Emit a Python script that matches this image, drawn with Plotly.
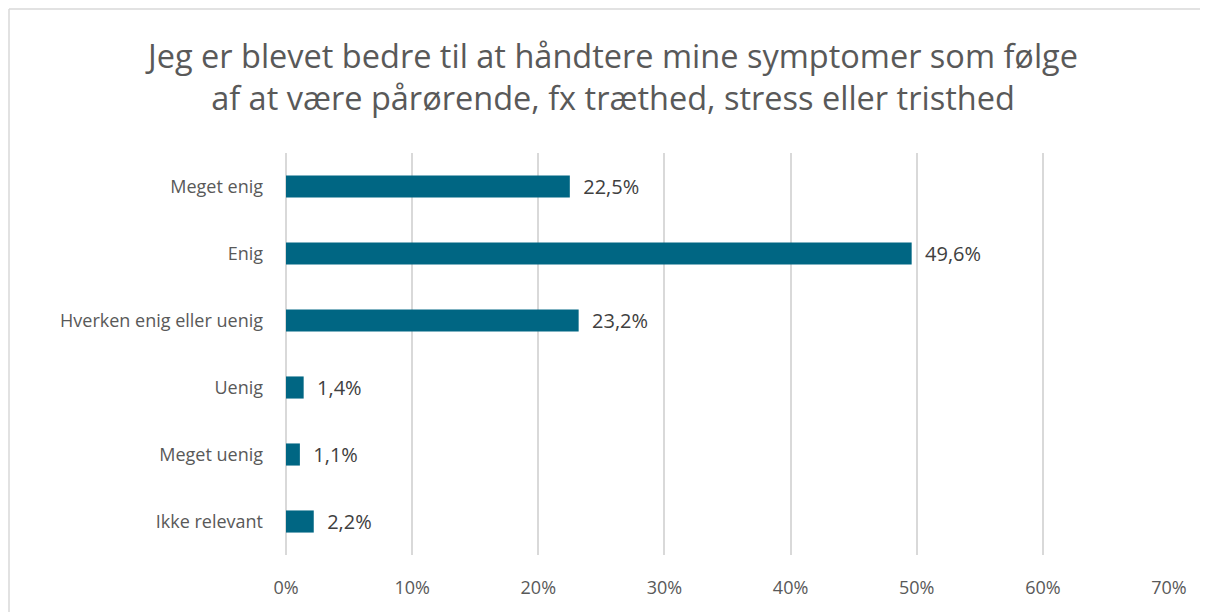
import plotly.graph_objects as go

categories = ["Meget enig", "Enig", "Hverken enig eller uenig", "Uenig", "Meget uenig", "Ikke relevant"]
values = [22.5, 49.6, 23.2, 1.4, 1.1, 2.2]
tick_vals = [0, 10, 20, 30, 40, 50, 60, 70]
tick_text = ["0%", "10%", "20%", "30%", "40%", "50%", "60%", "70%"]
title = "Jeg er blevet bedre til at håndtere mine symptomer som følge<br>af at være pårørende, fx træthed, stress eller tristhed"

# page has an 8px body offset, so the figure is a bit smaller than the window
W, H = 1196, 604
L, R, T, B = 278, 35, 145, 57
pw = W - L - R
ph = H - T - B

fig = go.Figure(go.Bar(
    x=values, y=categories, orientation="h",
    marker=dict(color="#006683", line=dict(width=0)),
    width=0.33,
    texttemplate="\u00a0\u00a0%{x:.1f}%",
    textposition="outside",
    constraintext="none",
    cliponaxis=False,
    textfont=dict(family="Open Sans", size=20, color="#404040"),
))

fig.update_xaxes(range=[0, 70], tickvals=tick_vals, ticktext=tick_text,
                 showgrid=True, gridcolor="#d9d9d9", gridwidth=1.5,
                 zeroline=True, zerolinecolor="#d9d9d9", zerolinewidth=1.5,
                 ticklabelstandoff=20, showline=False,
                 tickfont=dict(family="Open Sans", size=18, color="#595959"))
fig.update_yaxes(autorange="reversed", showgrid=False, ticklabelstandoff=22,
                 tickfont=dict(family="Open Sans", size=18, color="#595959"))

# chart border: only left and top edges are visible in the original crop
bx0 = (1 - L) / pw
by1 = 1 + (T - 1) / ph
fig.add_shape(type="line", xref="paper", yref="paper", x0=bx0, x1=bx0, y0=-(B + 30) / ph, y1=by1,
              line=dict(color="#d9d9d9", width=1.5), layer="below")
fig.add_shape(type="line", xref="paper", yref="paper", x0=bx0, x1=(W + 30 - L) / pw, y0=by1, y1=by1,
              line=dict(color="#d9d9d9", width=1.5), layer="below")

fig.update_layout(
    width=W, height=H,
    title=dict(text=title, x=605 / W, xref="container", xanchor="center",
               y=1 - 60 / H, yref="container", yanchor="middle",
               font=dict(family="Open Sans", size=32.5, color="#595959")),
    separators=",.",
    showlegend=False,
    paper_bgcolor="white",
    plot_bgcolor="white",
    margin=dict(l=L, r=R, t=T, b=B),
)

fig.write_html("out.html")
